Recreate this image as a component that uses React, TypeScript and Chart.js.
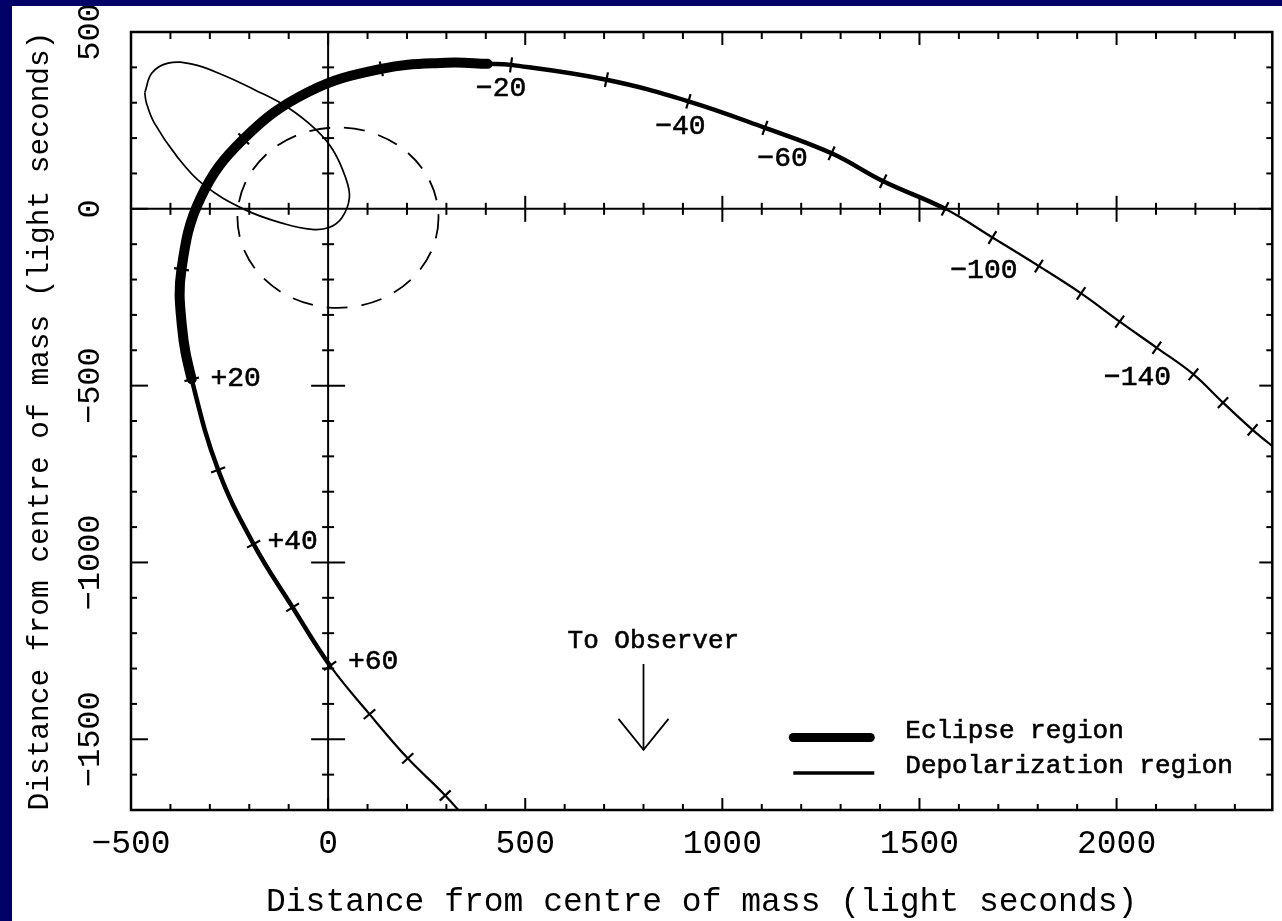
import React, { useEffect, useRef } from "react";
import { Chart, registerables } from "chart.js";

Chart.register(...registerables);

// Pulsar orbit about the centre of mass (light seconds); ORBIT_DAY is days from periastron.
const ORBIT_DAY = [-170, -160, -150, -140, -130, -120, -110, -100, -90, -80, -70, -60, -50, -40, -30, -20, -18, -15, -10, -5, 0, 5, 10, 15, 20, 30, 40, 50, 60, 70, 80, 90, 100];
const ORBIT_X = [2414, 2345, 2270, 2195, 2102, 2008, 1910, 1803, 1685, 1565, 1408, 1277, 1108, 914, 706, 464, 405, 300, 135, -51, -214, -323, -372, -371, -346, -279, -189, -90, 5, 105, 202, 297, 383];
const ORBIT_Y = [-688, -625, -548, -468, -393, -319, -239, -162, -81, 0, 78, 157, 229, 304, 365, 407, 410, 413, 396, 330, 198, 32, -171, -330, -482, -738, -948, -1127, -1292, -1429, -1554, -1659, -1768];

// Marks every 10 days; some of them carry a printed day number
const MARK_EVERY = 10;
const LABELLED_DAYS = [-20, -40, -60, -100, -140, 20, 40, 60];

// Eclipse and depolarization intervals (days)
const ECLIPSE_SPAN = [-18, 20];
const DEPOLARIZATION_SPANS = [[-80, -18], [20, 60]];

// Outline of the circumstellar disc
const DISC_X = [-465, -447, -406, -345, -270, -187, -104, -29, 13, 44, 54, 35, 2, -41, -109, -210, -317, -384, -441, -461];
const DISC_Y = [328, 384, 412, 409, 380, 337, 288, 222, 165, 89, 32, -25, -53, -58, -43, -3, 69, 149, 243, 300];

// Dashed ring around the companion
const RING_CENTRE = [25, -25];
const RING_RADIUS = 255;

// Direction to the observer
const OBSERVER_X = 800;
const OBSERVER_Y = [-1287, -1530];
const OBSERVER_TEXT_AT = [825, -1222];
const OBSERVER_TEXT = "To Observer";

// Axes
const X_RANGE = [-500, 2395];
const Y_RANGE = [-1700, 500];
const X_TICKS = [-500, 0, 500, 1000, 1500, 2000];
const Y_TICKS = [-1500, -1000, -500, 0, 500];
const AXIS_TITLE = "Distance from centre of mass (light seconds)";
const LEGEND_LABELS = ["Eclipse region", "Depolarization region"];

// Styling
const MONO = "'Liberation Mono', 'Courier New', monospace";
const INK = "#000";
const NAVY = "#000066";
const WIDTH_ECLIPSE = 10;
const WIDTH_DEPOL = 4.5;
const WIDTH_ORBIT = 2.2;
const TEXT_STROKE = 0.6;
const LABEL_OFFSET: Record<string, [number, number]> = {
  "-20": [-10, 24],
  "-40": [-8, 25],
  "-60": [-49, 5],
  "-100": [-55, 4],
  "-140": [-56, 3],
  "20": [44, -1],
  "40": [39, -2],
  "60": [43, -4],
};

const signed = (v: number) => (v < 0 ? `\u2212${-v}` : String(v));
const dayLabel = (d: number) => (d > 0 ? `+${d}` : `\u2212${-d}`);

function widthForDay(d: number) {
  if (d >= ECLIPSE_SPAN[0] && d < ECLIPSE_SPAN[1]) return WIDTH_ECLIPSE;
  if (DEPOLARIZATION_SPANS.some(([a, b]) => d >= a && d < b)) return WIDTH_DEPOL;
  return WIDTH_ORBIT;
}

const inRange = (i: number) =>
  ORBIT_X[i] >= X_RANGE[0] && ORBIT_X[i] <= X_RANGE[1] && ORBIT_Y[i] >= Y_RANGE[0] && ORBIT_Y[i] <= Y_RANGE[1];

const MARK_INDEX = ORBIT_DAY.map((_, i) => i).filter((i) => ORBIT_DAY[i] % MARK_EVERY === 0 && inRange(i));

function markAngle(chart: any, i: number) {
  const xs = chart.scales.x;
  const ys = chart.scales.y;
  const a = Math.max(0, i - 1);
  const b = Math.min(ORBIT_DAY.length - 1, i + 1);
  const dx = xs.getPixelForValue(ORBIT_X[b]) - xs.getPixelForValue(ORBIT_X[a]);
  const dy = ys.getPixelForValue(ORBIT_Y[b]) - ys.getPixelForValue(ORBIT_Y[a]);
  return (Math.atan2(dy, dx) * 180) / Math.PI + 90;
}

function steps(range: number[], step: number) {
  const out: number[] = [];
  for (let v = Math.ceil(range[0] / step) * step; v <= range[1]; v += step) out.push(v);
  return out;
}

function seg(ctx: CanvasRenderingContext2D, x1: number, y1: number, x2: number, y2: number) {
  ctx.beginPath();
  ctx.moveTo(x1, y1);
  ctx.lineTo(x2, y2);
  ctx.stroke();
}

// filled text with a hairline outline, for a slightly heavier print
function ink(ctx: CanvasRenderingContext2D, text: string, x: number, y: number) {
  ctx.fillText(text, x, y);
  ctx.lineWidth = TEXT_STROKE;
  ctx.strokeText(text, x, y);
}

const overlayPlugin = {
  id: "orbitOverlay",
  beforeDatasetsDraw(chart: any) {
    const { ctx, chartArea: a } = chart;
    const xs = chart.scales.x;
    const ys = chart.scales.y;
    const x0 = xs.getPixelForValue(0);
    const y0 = ys.getPixelForValue(0);
    ctx.save();
    ctx.strokeStyle = INK;
    ctx.lineWidth = 2;
    // axes through the centre of mass, with crossing ticks
    seg(ctx, x0, a.top, x0, a.bottom);
    seg(ctx, a.left, y0, a.right, y0);
    for (const v of steps(X_RANGE, 100)) {
      if (v === 0 || v === X_RANGE[0]) continue;
      const p = xs.getPixelForValue(v);
      const h = v % 500 === 0 ? 13 : 6;
      seg(ctx, p, y0 - h, p, y0 + h);
    }
    for (const v of steps(Y_RANGE, 100)) {
      if (v === 0 || v === Y_RANGE[0] || v === Y_RANGE[1]) continue;
      const p = ys.getPixelForValue(v);
      const h = v % 500 === 0 ? 17 : 6;
      seg(ctx, x0 - h, p, x0 + h, p);
    }
    // dashed ring
    const cx = xs.getPixelForValue(RING_CENTRE[0]);
    const cy = ys.getPixelForValue(RING_CENTRE[1]);
    const rx = Math.abs(xs.getPixelForValue(RING_CENTRE[0] + RING_RADIUS) - cx);
    const ry = Math.abs(ys.getPixelForValue(RING_CENTRE[1] + RING_RADIUS) - cy);
    ctx.lineWidth = 1.8;
    ctx.setLineDash([21, 14]);
    ctx.beginPath();
    ctx.ellipse(cx, cy, rx, ry, 0, 0, Math.PI * 2);
    ctx.stroke();
    ctx.setLineDash([]);
    ctx.restore();
  },
  afterDatasetsDraw(chart: any) {
    const { ctx, chartArea: a } = chart;
    const xs = chart.scales.x;
    const ys = chart.scales.y;
    ctx.save();
    ctx.strokeStyle = INK;
    ctx.fillStyle = INK;

    // frame with inward ticks on all four sides
    ctx.lineWidth = 2;
    for (const v of steps(X_RANGE, 100)) {
      if (v <= X_RANGE[0] || v >= X_RANGE[1]) continue;
      const p = xs.getPixelForValue(v);
      const major = v % 500 === 0;
      seg(ctx, p, a.bottom, p, a.bottom - (major ? 12 : 6));
      seg(ctx, p, a.top, p, a.top + (major ? 13 : 7));
    }
    for (const v of steps(Y_RANGE, 100)) {
      if (v <= Y_RANGE[0] || v >= Y_RANGE[1]) continue;
      const p = ys.getPixelForValue(v);
      const major = v % 500 === 0;
      seg(ctx, a.left, p, a.left + (major ? 17 : 6), p);
      seg(ctx, a.right, p, a.right - (major ? 13 : 6), p);
    }
    ctx.lineWidth = 2.5;
    ctx.strokeRect(a.left, a.top, a.right - a.left, a.bottom - a.top);

    // day numbers along the orbit
    ctx.font = `28px ${MONO}`;
    ctx.textAlign = "center";
    ctx.textBaseline = "middle";
    for (const d of LABELLED_DAYS) {
      const i = ORBIT_DAY.indexOf(d);
      const [dx, dy] = LABEL_OFFSET[String(d)];
      ink(ctx, dayLabel(d), xs.getPixelForValue(ORBIT_X[i]) + dx, ys.getPixelForValue(ORBIT_Y[i]) + dy);
    }

    // arrow towards the observer
    const ax = xs.getPixelForValue(OBSERVER_X);
    const ay1 = ys.getPixelForValue(OBSERVER_Y[0]);
    const ay2 = ys.getPixelForValue(OBSERVER_Y[1]);
    ctx.lineWidth = 1.8;
    seg(ctx, ax, ay1, ax, ay2);
    ctx.beginPath();
    ctx.moveTo(ax - 25, ay2 - 31);
    ctx.lineTo(ax, ay2);
    ctx.lineTo(ax + 25, ay2 - 31);
    ctx.stroke();
    ctx.font = `26px ${MONO}`;
    ink(ctx, OBSERVER_TEXT, xs.getPixelForValue(OBSERVER_TEXT_AT[0]), ys.getPixelForValue(OBSERVER_TEXT_AT[1]));

    // legend
    const lx1 = a.right - 398;
    ctx.lineCap = "round";
    ctx.lineWidth = 9;
    seg(ctx, a.right - 479, a.bottom - 72.5, lx1 - 4, a.bottom - 72.5);
    ctx.lineCap = "butt";
    ctx.lineWidth = 3.5;
    seg(ctx, a.right - 479, a.bottom - 37, lx1, a.bottom - 37);
    ctx.textAlign = "left";
    ink(ctx, LEGEND_LABELS[0], a.right - 367, a.bottom - 79);
    ink(ctx, LEGEND_LABELS[1], a.right - 367, a.bottom - 44);
    ctx.restore();
  },
};

export default function App() {
  const ref = useRef<HTMLCanvasElement>(null);

  useEffect(() => {
    const canvas = ref.current;
    if (!canvas) return;
    Chart.defaults.font.family = MONO;
    Chart.defaults.color = INK;

    const chart = new Chart(canvas, {
      type: "scatter",
      data: {
        datasets: [
          {
            label: "Day marks",
            data: MARK_INDEX.map((i) => ({ x: ORBIT_X[i], y: ORBIT_Y[i] })),
            showLine: false,
            pointStyle: "line",
            pointRadius: 7.5,
            pointBorderWidth: 2.2,
            pointBorderColor: INK,
            pointBackgroundColor: INK,
            pointRotation: (c: any) => markAngle(c.chart, MARK_INDEX[c.dataIndex]),
            clip: 0,
          } as any,
          {
            label: "Orbit",
            data: ORBIT_DAY.map((_, i) => ({ x: ORBIT_X[i], y: ORBIT_Y[i] })),
            showLine: true,
            borderColor: INK,
            borderWidth: WIDTH_ORBIT,
            borderCapStyle: "round",
            borderJoinStyle: "round",
            tension: 0.4,
            pointRadius: 0,
            clip: 0,
            segment: {
              borderWidth: (c: any) => widthForDay((ORBIT_DAY[c.p0DataIndex] + ORBIT_DAY[c.p1DataIndex]) / 2),
            },
          } as any,
          {
            label: "Disc",
            data: [...DISC_X.map((x, i) => ({ x, y: DISC_Y[i] })), { x: DISC_X[0], y: DISC_Y[0] }],
            showLine: true,
            borderColor: INK,
            borderWidth: 1.7,
            tension: 0.4,
            pointRadius: 0,
            clip: 0,
          } as any,
        ],
      },
      options: {
        responsive: false,
        animation: false,
        devicePixelRatio: 1,
        events: [],
        layout: { padding: { left: 0, right: 6, top: 26, bottom: 0 } },
        elements: { line: { capBezierPoints: false } },
        plugins: { legend: { display: false }, tooltip: { enabled: false } },
        scales: {
          x: {
            type: "linear",
            position: "bottom",
            min: X_RANGE[0],
            max: X_RANGE[1],
            afterBuildTicks: (s: any) => {
              s.ticks = X_TICKS.map((value) => ({ value }));
            },
            afterFit: (s: any) => {
              s.height = 111;
            },
            grid: { display: false, drawTicks: false },
            border: { display: false },
            ticks: {
              minRotation: 0,
              maxRotation: 0,
              autoSkip: false,
              padding: 14,
              color: INK,
              font: { family: MONO, size: 33 },
              callback: (v: any) => signed(Number(v)),
            },
            title: {
              display: true,
              text: AXIS_TITLE,
              color: INK,
              font: { family: MONO, size: 33, lineHeight: 1 },
              padding: { top: 0, bottom: 2 },
            },
          },
          y: {
            type: "linear",
            min: Y_RANGE[0],
            max: Y_RANGE[1],
            afterBuildTicks: (s: any) => {
              s.ticks = Y_TICKS.map((value) => ({ value }));
            },
            afterFit: (s: any) => {
              s.width = 119;
            },
            grid: { display: false, drawTicks: false },
            border: { display: false },
            ticks: {
              minRotation: 90,
              maxRotation: 90,
              crossAlign: "center",
              padding: -8,
              color: INK,
              font: { family: MONO, size: 32 },
              callback: (v: any) => signed(Number(v)),
            },
            title: {
              display: true,
              text: AXIS_TITLE,
              color: INK,
              font: { family: MONO, size: 29.5, lineHeight: 1 },
              padding: { top: 13, bottom: 0 },
            },
          },
        },
      } as any,
      plugins: [overlayPlugin],
    });

    return () => chart.destroy();
  }, []);

  return (
    <div style={{ position: "fixed", left: 0, top: 0, width: 1282, height: 921, background: NAVY, overflow: "hidden" }}>
      <div style={{ position: "absolute", left: 12, top: 6, width: 1270, height: 915, background: "#fff" }}>
        <canvas ref={ref} width={1270} height={915} style={{ display: "block", width: 1270, height: 915 }} />
      </div>
    </div>
  );
}
